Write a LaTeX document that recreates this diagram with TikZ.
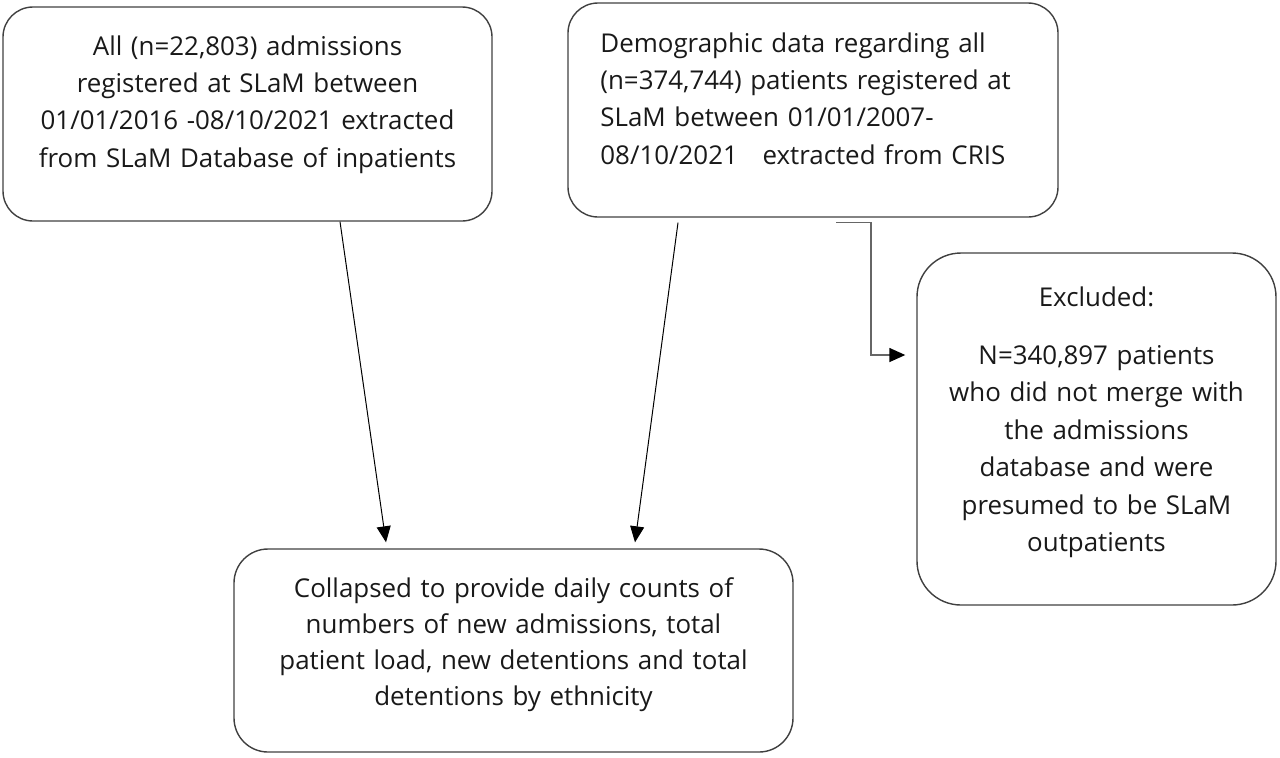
\documentclass[tikz,border=0pt]{standalone}
\usepackage{fontspec}
\setmainfont{Open Sans}
\usetikzlibrary{arrows.meta,positioning}

\begin{document}
\begin{tikzpicture}[
            x=0.5pt, y=-0.5pt,
            font=\fontsize{12.95pt}{18.7pt}\selectfont,
            box/.style={draw=black!75,line width=0.7pt,rounded corners=15pt},
            txt/.style={align=center,inner sep=0pt,anchor=base,text=black!90},
            link/.style={->,line width=0.5pt},
            >={Triangle[length=8pt,width=7pt,color=black]}
        ]
        \useasboundingbox (0,0) rectangle (1280,757);

        % Draw boxes %
        \node[box,minimum width=244.5pt,minimum height=107pt] (adm) at (247.5,114) {};
        \node[box,minimum width=245pt,minimum height=107pt] (demo) at (813,110) {};
        \node[box,minimum width=179.5pt,minimum height=176pt,rounded corners=22pt] (excl) at (1096.5,429) {};
        \node[box,minimum width=279.5pt,minimum height=101.5pt,rounded corners=17pt] (coll) at (513.5,650.5) {};

        % Draw texts %
        \node[txt,text width=240pt] (admText) at (247.5,55) {All (n=22,803) admissions\\ registered at SLaM between\\ 01/01/2016 -08/10/2021 extracted\\ from SLaM Database of inpatients};
        \node[txt,align=left,anchor=base west,text width=235pt] (demoText) at (600,52) {Demographic data regarding all\\ (n=374,744) patients registered at\\ SLaM between 01/01/2007-\\ 08/10/2021\hspace{8pt} extracted from CRIS};
        \node[txt,text width=178pt] (exclText) at (1096.5,306) {Excluded:\\[10.5pt] N=340,897 patients\\ who did not merge with\\ the admissions\\ database and were\\ presumed to be SLaM\\ outpatients};
        \node[txt,text width=278pt,font=\fontsize{12.95pt}{18.1pt}\selectfont] (collText) at (513.5,597) {Collapsed to provide daily counts of\\ numbers of new admissions, total\\ patient load, new detentions and total\\ detentions by ethnicity};

        % Draw arrows %
        \coordinate (admOut) at ([xshift=46.25pt]adm.south);
        \coordinate (demoOut) at ([xshift=-67.5pt,yshift=-2.5pt]demo.south);
        \coordinate (demoSide) at ([xshift=11.5pt,yshift=-2.5pt]demo.south);
        \coordinate (collInL) at ([xshift=-63.75pt,yshift=3pt]coll.north);
        \coordinate (collInR) at ([xshift=60.75pt,yshift=3pt]coll.north);
        \coordinate (exclIn) at ([xshift=-5.5pt,yshift=37pt]excl.west);

        \draw[link] (admOut) -- (collInL);
        \draw[link] (demoOut) -- (collInR);
        \draw[link,draw=black!60,line width=0.75pt] (demoSide) -- ++(35,0) |- (exclIn);
        \end{tikzpicture}
\end{document}
